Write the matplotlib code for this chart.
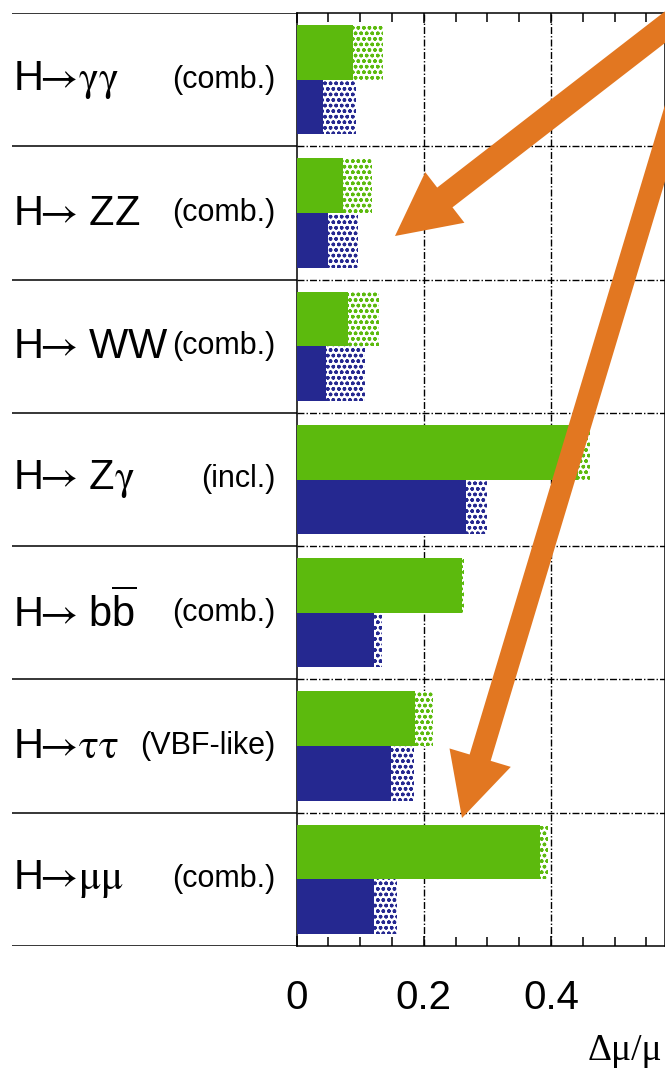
import numpy as np
import matplotlib
matplotlib.use("Agg")
import matplotlib.pyplot as plt
import matplotlib.transforms as mtransforms
from matplotlib.patches import FancyArrow
from matplotlib.ticker import MultipleLocator

plt.rcParams['mathtext.fontset'] = 'custom'
plt.rcParams['mathtext.sf'] = 'Liberation Sans'
plt.rcParams['mathtext.rm'] = 'STIXGeneral'
plt.rcParams['mathtext.it'] = 'STIXGeneral:italic'
plt.rcParams['hatch.linewidth'] = 1.0

# decay channels, top to bottom
channels = [r"$\mathsf{H}\!\!\rightarrow\!\mathrm{\gamma\gamma}$",
            r"$\mathsf{H}\!\!\rightarrow\,\mathsf{ZZ}$",
            r"$\mathsf{H}\!\!\rightarrow\,\mathsf{WW}$",
            r"$\mathsf{H}\!\!\rightarrow\,\mathsf{Z}\mathrm{\gamma}$",
            r"$\mathsf{H}\!\!\rightarrow\,\mathsf{b}\overline{\mathsf{b}}$",
            r"$\mathsf{H}\!\!\rightarrow\!\mathrm{\tau\tau}$",
            r"$\mathsf{H}\!\!\rightarrow\!\mathrm{\mu\mu}$"]
categories = ["(comb.)", "(comb.)", "(comb.)", "(incl.)", "(comb.)", "(VBF-like)", "(comb.)"]

# relative precision: solid part and full bar (hatched extension)
green_solid = [0.088, 0.073, 0.080, 0.443, 0.260, 0.186, 0.383]
green_total = [0.135, 0.118, 0.130, 0.462, 0.263, 0.215, 0.396]
blue_solid = [0.042, 0.050, 0.046, 0.267, 0.122, 0.148, 0.122]
blue_total = [0.093, 0.097, 0.107, 0.299, 0.134, 0.185, 0.157]
xticks = [0, 0.2, 0.4]
xtick_labels = ["0", "0.2", "0.4"]

GREEN = "#5cba0d"
BLUE = "#252890"
ORANGE = "#e27721"

W, H = 665, 1073
fig = plt.figure(figsize=(W / 100, H / 100), dpi=100)

x0, x1 = 296.7, 664.5
y_top, y_bot = 13, 946
ax = fig.add_axes([x0 / W, 1 - y_bot / H, (x1 - x0) / W, (y_bot - y_top) / H])
axl = fig.add_axes([12 / W, 1 - y_bot / H, (x0 - 12) / W, (y_bot - y_top) / H])

n = len(channels)
rows = np.arange(n)
bh = 0.41

ax.barh(rows + 0.295, green_solid, height=bh, color=GREEN, lw=0, zorder=3)
ax.barh(rows + 0.295, np.array(green_total) - np.array(green_solid), left=green_solid,
        height=bh, facecolor="white", edgecolor=GREEN, hatch="ooo", lw=0, zorder=3)
ax.barh(rows + 0.705, blue_solid, height=bh, color=BLUE, lw=0, zorder=3)
ax.barh(rows + 0.705, np.array(blue_total) - np.array(blue_solid), left=blue_solid,
        height=bh, facecolor="white", edgecolor=BLUE, hatch="ooo", lw=0, zorder=3)

ax.set_ylim(n, 0)
ax.set_xlim(0, (x1 - x0) / 635.75)

dash = dict(color="black", lw=1.0, dashes=(5, 1.5, 1, 1.5), zorder=1)
for b in range(1, n):
    ax.axhline(b, **dash)
for v in xticks[1:]:
    ax.axvline(v, **dash)

ax.set_xticks(xticks)
ax.set_xticklabels(xtick_labels, family="Liberation Sans")
ax.xaxis.set_minor_locator(MultipleLocator(0.05))
ax.set_yticks([])
ax.tick_params(axis="x", which="both", direction="in", top=True, bottom=True,
               width=1.1, color="black")
ax.tick_params(axis="x", which="major", length=7.5, labelsize=29, pad=24)
ax.tick_params(axis="x", which="minor", length=6.5)
for s in ax.spines.values():
    s.set_linewidth(1.1)

# label panel on the left
axl.set_xlim(0, 1)
axl.set_ylim(n, 0)
axl.axis("off")
for b in range(n + 1):
    axl.axhline(b, color="black", lw=1.1)
for i in rows:
    axl.text(0.004, i + 0.5, channels[i], fontsize=30, va="center", ha="left")
    axl.text(0.924, i + 0.5, categories[i], fontsize=22, va="center", ha="right",
             family="Liberation Sans")

fig.text(662 / W, 1 - 1051 / H, "Δμ/μ", fontsize=27, ha="right", va="center",
         family="Liberation Serif")

# orange arrows (pixel coordinates)
px = mtransforms.IdentityTransform()
for (tx, ty), (hx, hy), w in [((713, H + 10), (395, H - 236), 25),
                              ((690, H - 60), (462, H - 818), 22)]:
    fig.add_artist(FancyArrow(tx, ty, hx - tx, hy - ty, width=w, head_width=64,
                              head_length=63, length_includes_head=True,
                              color=ORANGE, lw=0, transform=px, zorder=10))

fig.savefig("out.png", dpi=100)
